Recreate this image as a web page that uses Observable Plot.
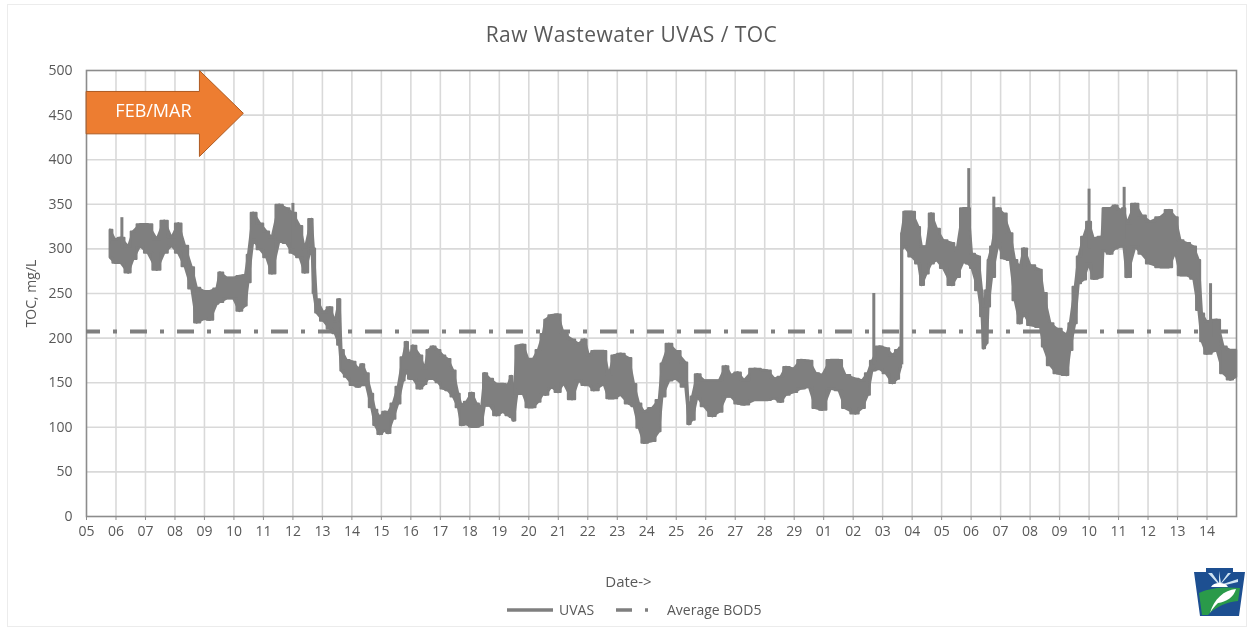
<!DOCTYPE html>
<html><head><meta charset="utf-8">
<script src="https://cdn.jsdelivr.net/npm/d3@7"></script>
<script src="https://cdn.jsdelivr.net/npm/@observablehq/plot@0.6"></script>
<style>
html,body{margin:0;padding:0;background:#fff;overflow:hidden}
#page{position:relative;width:1252px;height:630px;font-family:"Open Sans",sans-serif;color:#595959;filter:blur(.45px)}
#box{position:absolute;left:7px;top:4px;width:1240px;height:623px;border:1px solid #ececec;box-sizing:border-box;pointer-events:none}
#title{height:60px;box-sizing:border-box;padding-top:20px;padding-left:11px;text-align:center;font-size:21px;line-height:28px;letter-spacing:.45px}
#chart svg{display:block}
#legend{position:absolute;left:0;top:600px;width:1252px;height:20px;font-size:14px;line-height:20px}
#legend span,#legend svg{position:absolute;top:0}
#logo{position:absolute;left:1192px;top:567px}
</style></head><body>
<div id="page">
<div id="box"></div>
<div id="title">Raw Wastewater UVAS / TOC</div>
<div id="chart"></div>
<div id="legend">
<svg style="left:505px" width="50" height="20"><line x1="2" x2="48" y1="10" y2="10" stroke="#7f7f7f" stroke-width="3.5"/></svg>
<span style="left:559px">UVAS</span>
<svg style="left:612px" width="50" height="20"><line x1="4" x2="44" y1="10" y2="10" stroke="#7f7f7f" stroke-width="3.5" stroke-dasharray="16 13 3 100"/></svg>
<span style="left:667px">Average BOD5</span>
</div>
<svg id="logo" width="54" height="50" viewBox="0 0 54 50">
<path d="M14 1H41V5H53L47 49H8L2 5H14Z" fill="#1d4f91"/>
<path d="M27 18L16 6H20L27 16L27 4L29 16L36 6H39L28 18L46 12V15L29 19Z" fill="#cfe3f2"/>
<path d="M19 20A9 6 0 0 1 36 20Z" fill="#fff"/>
<path d="M7 26C20 20 34 20 48 21L46 34C36 35 24 39 16 48H10Z" fill="#2a9a4a"/>
<path d="M18 46C22 32 32 23 44 22C42 30 34 35 26 36C23 39 20 42 18 46Z" fill="#fff"/>
</svg>
</div>
<script>
const dayLabels = ["05","06","07","08","09","10","11","12","13","14","15","16","17","18","19","20","21","22","23","24","25","26","27","28","29","01","02","03","04","05","06","07","08","09","10","11","12","13","14"];
const yTicks = [0,50,100,150,200,250,300,350,400,450,500];
const averageBOD5 = 207.5;
const days = [0.81,0.98,1.18,1.43,1.6,1.83,2.1,2.4,2.65,2.9,3.13,3.35,3.58,3.75,4,4.2,4.43,4.54,4.77,5,5.2,5.4,5.5,5.67,5.9,6.12,6.3,6.55,6.8,7,7.25,7.42,7.65,7.72,7.82,8.05,8.27,8.44,8.59,8.66,8.83,9.05,9.23,9.37,9.5,9.68,9.8,9.96,10.13,10.24,10.41,10.58,10.75,10.86,10.98,11.09,11.32,11.49,11.6,11.77,11.94,12.1,12.27,12.45,12.62,12.73,12.9,13.08,13.24,13.41,13.52,13.69,13.92,14.14,14.31,14.42,14.5,14.62,14.82,14.99,15.16,15.33,15.5,15.58,15.78,16,16.2,16.48,16.7,16.9,17.05,17.22,17.56,17.73,17.9,18.13,18.41,18.58,18.75,18.92,19.2,19.43,19.54,19.77,20,20.33,20.45,20.56,20.73,20.96,21.24,21.47,21.7,21.87,22.1,22.32,22.66,23.11,23.34,23.56,23.73,24,24.24,24.52,24.75,24.97,25.25,25.53,25.75,26.09,26.32,26.51,26.66,26.9,27.13,27.35,27.52,27.63,27.66,27.77,28,28.23,28.34,28.5,28.66,28.85,29.07,29.36,29.53,29.75,29.92,30.04,30.26,30.38,30.43,30.55,30.6,30.72,30.94,31.11,31.34,31.5,31.67,31.81,32.02,32.36,32.47,32.7,32.92,33.26,33.37,33.54,33.66,33.83,34,34.17,34.45,34.5,34.73,34.9,35.07,35.19,35.3,35.58,35.8,36.09,36.43,36.73,36.94,37.11,37.33,37.56,37.73,37.84,38,38.35,38.57,38.8,39];
const high = [321,310,312,302,319,327,327,310,331,312,328,303,279,256,252,252,255,273,267,267,269,270,293,340,328,319,312,349,345,340,325,299,333,300,243,228,234,218,243,186,175,173,165,170,160,137,119,111,117,116,126,145,178,195,178,191,180,165,186,190,186,180,176,163,137,124,128,138,126,122,160,154,148,148,147,157,134,191,192,176,176,186,204,220,225,226,204,198,193,198,180,185,185,158,180,182,177,148,126,117,121,130,171,193,185,172,119,134,159,152,152,152,168,158,161,152,165,163,154,156,167,165,175,174,160,158,175,175,158,154,152,160,174,190,188,180,186,189,317,341,341,324,302,302,339,322,309,306,298,345,345,294,291,253,235,253,287,302,345,339,317,287,279,300,281,276,250,216,210,203,216,257,291,313,330,311,313,345,345,348,343,345,328,350,337,330,335,343,335,309,306,302,287,227,218,220,190,186,186];
const low = [290,284,284,273,288,303,295,276,295,303,295,280,255,217,221,220,238,240,244,244,230,236,262,310,299,290,272,308,306,295,290,273,303,250,228,219,210,205,192,163,156,147,145,147,147,122,102,92,96,93,109,126,152,163,154,154,143,148,154,154,150,143,141,134,122,102,103,100,100,102,124,124,113,117,113,111,107,137,137,122,122,128,137,136,145,139,149,131,152,147,147,141,148,132,132,136,126,123,99,82,84,95,134,152,154,145,103,108,134,123,112,117,134,134,126,125,130,130,132,128,136,139,143,145,121,119,143,141,121,115,121,136,163,165,160,149,154,167,300,302,291,283,259,272,283,287,278,259,268,285,283,278,253,224,188,194,235,268,306,289,287,242,216,227,214,212,190,169,160,158,186,216,261,265,283,266,268,298,294,300,302,302,268,302,294,283,279,279,296,270,270,266,231,196,182,186,160,153,156];
const spikeDays = [1.2,7,26.7,27.65,29.92,30.77,34,35.19,38.12];
const spikeTops = [335,351,250,300,390,358,367,369,261];
const spikeBottoms = [300,300,170,170,320,300,300,310,200];
const arrowDays = [0,3.83,3.83,5.32,3.83,3.83,0];
const arrowVals = [476.5,476.5,500,452,403.6,429,429];

const rows = days.map((d,i)=>({d,hi:high[i],lo:low[i]}));
const spikes = spikeDays.map((d,i)=>({d,top:spikeTops[i],bottom:spikeBottoms[i]}));
const arrow = arrowDays.map((d,i)=>({d,v:arrowVals[i]}));
const grey = "#7f7f7f";

const plot = Plot.plot({
  width:1252, height:535,
  marginLeft:86, marginRight:16, marginTop:10, marginBottom:79,
  style:{background:"transparent",color:"#595959",fontFamily:"'Open Sans',sans-serif"},
  x:{domain:[0,39]},
  y:{domain:[0,500]},
  marks:[
    Plot.gridX(d3.range(1,39),{stroke:"#d9d9d9",strokeOpacity:1,strokeWidth:1.6}),
    Plot.gridY(yTicks.slice(1,-1),{stroke:"#d9d9d9",strokeOpacity:1,strokeWidth:1.6}),
    Plot.frame({stroke:"#8c8c8c",strokeWidth:1.6}),
    Plot.ruleY([averageBOD5],{x1:0,x2:38.8,stroke:grey,strokeWidth:4,strokeDasharray:"17 13 4 13",strokeDashoffset:3}),
    Plot.areaY(rows,{x:"d",y1:"lo",y2:"hi",fill:grey,stroke:grey,strokeWidth:2.5,curve:"linear"}),
    Plot.areaY(rows,{x:"d",y1:"lo",y2:"hi",fill:grey,stroke:grey,strokeWidth:2,curve:"step"}),
    Plot.ruleX(spikes,{x:"d",y1:"bottom",y2:"top",stroke:grey,strokeWidth:3}),
    Plot.line(arrow,{x:"d",y:"v",fill:"#ed7d31",stroke:"#ae5a21",strokeWidth:1,curve:"linear-closed"}),
    Plot.text(["FEB/MAR"],{x:2.27,y:454,fill:"#fff",fontSize:18}),
    Plot.axisY(yTicks,{tickSize:0,tickPadding:14,fontSize:14,label:"TOC, mg/L",labelAnchor:"center",labelArrow:"none",labelOffset:60}),
    Plot.axisX(d3.range(0,39),{tickSize:4,tickPadding:6,fontSize:14,stroke:"#8c8c8c",tickFormat:d=>dayLabels[d],label:null}),
    Plot.text(["Date->"],{x:18.38,y:0,dy:66,fontSize:15,fill:"#595959"})
  ]
});
document.getElementById("chart").appendChild(plot);
</script>
</body></html>
